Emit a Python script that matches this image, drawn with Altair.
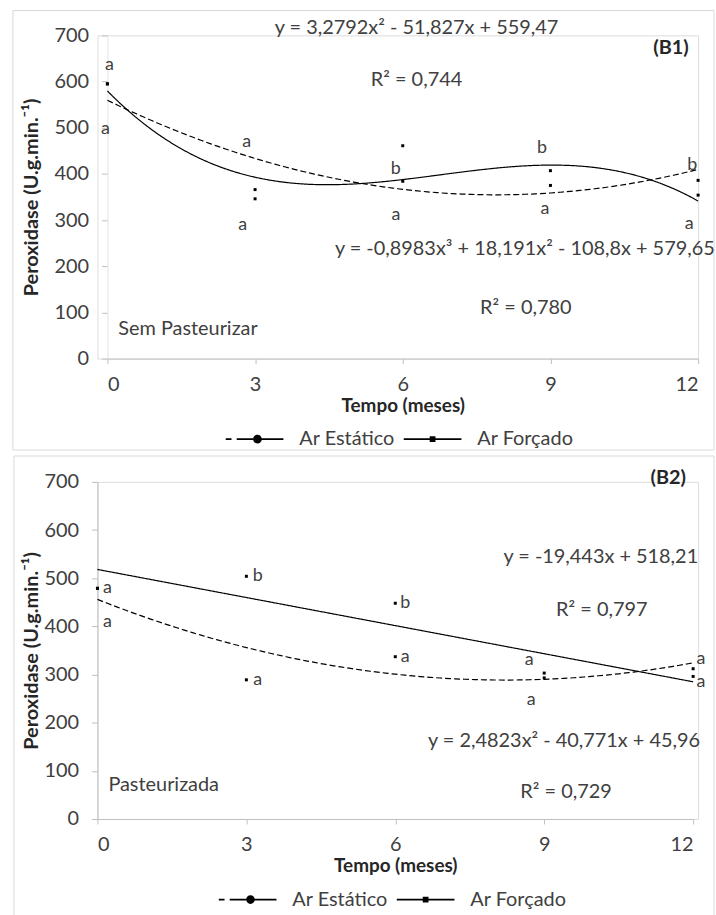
import altair as alt
import pandas as pd

MESES = [0, 3, 6, 9, 12]
SERIES = ["Ar Estático", "Ar Forçado"]

# Peroxidase means (U.g.min-1) - sem pasteurizar
b1_estatico = [595, 366, 384, 375, 386]
b1_forcado = [595, 346, 461, 407, 354]
# Peroxidase means (U.g.min-1) - pasteurizada
b2_estatico = [479, 289, 337, 293, 296]
b2_forcado = [479, 504, 448, 303, 312]

# trend-line coefficients c0 + c1*x + c2*x^2 + c3*x^3
b1_coef_estatico = [559.47, -51.827, 3.2792, 0.0]
b1_coef_forcado = [579.65, -108.8, 18.191, -0.8983]
b2_coef_estatico = [455.96, -40.771, 2.4823, 0.0]
b2_coef_forcado = [518.21, -19.443, 0.0, 0.0]

# significance letters (x in months, y in U.g.min-1)
b1_let_x = [0.04, -0.04, 2.83, 2.75, 5.86, 5.86, 8.83, 8.89, 11.88, 11.82]
b1_let_y = [636, 498, 468, 289, 410, 310, 457, 323, 420, 291]
b1_let_t = ["a", "a", "a", "a", "b", "a", "b", "a", "b", "a"]
b2_let_x = [0.2, 0.2, 3.23, 3.23, 6.2, 6.2, 8.7, 8.74, 12.16, 12.16]
b2_let_y = [479, 409, 504, 289, 448, 337, 330, 248, 333, 285]
b2_let_t = ["a", "a", "b", "a", "b", "a", "a", "a", "a", "a"]

# equations and R2
b1_eq_text = ["y = 3,2792x² - 51,827x + 559,47", "R² = 0,744",
              "y = -0,8983x³ + 18,191x² - 108,8x + 579,65", "R² = 0,780"]
b1_eq_x = [6.28, 6.28, 8.48, 8.5]
b1_eq_y = [715, 603, 237, 110]
b2_eq_text = ["y = -19,443x + 518,21", "R² = 0,797",
              "y = 2,4823x² - 40,771x + 45,96", "R² = 0,729"]
b2_eq_x = [10.14, 10.16, 9.4, 9.44]
b2_eq_y = [543, 434, 161, 56]

FONT = "Lato"
INK = "#404040"
AXIS_GRAY = "#bfbfbf"
FS = 20

# legend glyphs built from filled pieces:
# dashed line with a round marker / solid line with a square marker
GLYPH_ESTATICO = ("M-1,-0.03H-0.8V0.03H-1Z"
                  "M-0.62,-0.03H-0.05V0.03H-0.62Z"
                  "M0.2,-0.03H1V0.03H0.2Z"
                  "M-0.05,0A0.15,0.15 0 1,1 0.25,0A0.15,0.15 0 1,1 -0.05,0Z")
GLYPH_FORCADO = ("M-1,-0.03H1V0.03H-1Z"
                 "M-0.1,-0.1H0.1V0.1H-0.1Z")


def poly_expr(c):
    return (f"{c[0]} + ({c[1]})*datum.x + ({c[2]})*datum.x*datum.x"
            f" + ({c[3]})*datum.x*datum.x*datum.x")


def panel(est, frc, coef_e, coef_f, let_x, let_y, let_t, eq_t, eq_x, eq_y,
          tag, tag_xy, note, note_xy, x_range, height, yaxis_offset,
          ydomain_color, ytitle_pad, legend_xy, frame):
    xs = alt.Scale(domain=[0, 12], range=x_range, nice=False)
    ys = alt.Scale(domain=[0, 700], nice=False)
    xaxis = alt.Axis(values=MESES, grid=False, title="Tempo (meses)",
                     domainColor=AXIS_GRAY, tickColor=AXIS_GRAY, tickSize=5,
                     labelFont=FONT, labelFontSize=FS, labelColor=INK,
                     labelPadding=11, titleFont=FONT, titleFontSize=19,
                     titleFontWeight="bold", titleColor="#262626",
                     titlePadding=2)
    yaxis = alt.Axis(values=[0, 100, 200, 300, 400, 500, 600, 700],
                     grid=False, title="Peroxidase (U.g.min.⁻¹)",
                     domainColor=ydomain_color, tickColor=AXIS_GRAY,
                     tickSize=6, offset=yaxis_offset,
                     labelFont=FONT, labelFontSize=FS, labelColor=INK,
                     labelPadding=13, titleFont=FONT, titleFontSize=FS,
                     titleFontWeight="bold", titleColor="#262626",
                     titlePadding=ytitle_pad)
    X = alt.X("x:Q", scale=xs, axis=xaxis)
    Y = alt.Y("y:Q", scale=ys, axis=yaxis)

    pts = pd.DataFrame({
        "x": MESES * 2,
        "y": est + frc,
        "serie": [SERIES[0]] * 5 + [SERIES[1]] * 5,
    })
    letters = pd.DataFrame({"x": let_x, "y": let_y, "t": let_t})
    eqs = pd.DataFrame({"x": eq_x, "y": eq_y, "t": eq_t})

    def curve(coef, dash):
        return (alt.Chart(alt.sequence(0, 12.01, 0.1, as_="x"))
                .transform_calculate(y=poly_expr(coef))
                .mark_line(color="black", strokeWidth=1.2, strokeDash=dash)
                .encode(x=X, y=Y))

    frame_rect = alt.Chart(pd.DataFrame({"k": [0]})).mark_rect(
        fill=None, stroke="#d9d9d9", strokeWidth=1
    ).encode(x=alt.value(frame[0]), x2=alt.value(frame[1]),
             y=alt.value(frame[2]), y2=alt.value(frame[3]))

    line_e = curve(coef_e, [6, 3])
    line_f = curve(coef_f, [1, 0])

    dots = alt.Chart(pts).mark_square(size=9, color="black", opacity=1).encode(
        x=X, y=Y)

    legend_layer = alt.Chart(pts).mark_point(
        filled=True, color="black", size=4, opacity=0
    ).encode(
        x=X, y=Y,
        shape=alt.Shape(
            "serie:N",
            scale=alt.Scale(domain=SERIES, range=[GLYPH_ESTATICO, GLYPH_FORCADO]),
            legend=alt.Legend(
                orient="none", legendX=legend_xy[0], legendY=legend_xy[1],
                direction="horizontal", title=None, symbolSize=3364,
                symbolFillColor="black", symbolOpacity=1,
                labelFont=FONT, labelFontSize=FS, labelColor=INK,
                labelOffset=15, columnPadding=6,
            ),
        ),
    )

    letter_txt = alt.Chart(letters).mark_text(
        font=FONT, fontSize=18, color=INK, baseline="middle"
    ).encode(x=X, y=Y, text="t:N")

    eq_txt = alt.Chart(eqs).mark_text(
        font=FONT, fontSize=FS, color=INK, baseline="middle"
    ).encode(x=X, y=Y, text="t:N")

    tag_txt = alt.Chart(pd.DataFrame({"x": [tag_xy[0]], "y": [tag_xy[1]], "t": [tag]})).mark_text(
        font=FONT, fontSize=FS, fontWeight="bold", color="#262626", baseline="middle"
    ).encode(x=X, y=Y, text="t:N")

    note_txt = alt.Chart(pd.DataFrame({"x": [note_xy[0]], "y": [note_xy[1]], "t": [note]})).mark_text(
        font=FONT, fontSize=FS, color=INK, baseline="middle", align="left"
    ).encode(x=X, y=Y, text="t:N")

    return alt.layer(
        frame_rect, line_e, line_f, dots, legend_layer,
        letter_txt, eq_txt, tag_txt, note_txt
    ).properties(width=604, height=height)


p1 = panel(b1_estatico, b1_forcado, b1_coef_estatico, b1_coef_forcado,
           b1_let_x, b1_let_y, b1_let_t, b1_eq_text, b1_eq_x, b1_eq_y,
           "(B1)", (11.45, 672), "Sem Pasteurizar", (0.22, 65),
           [10, 604], 325, -10, "#e3e3e3", 12, (128, 376),
           (-85, 620, -25, 417))
p2 = panel(b2_estatico, b2_forcado, b2_coef_estatico, b2_coef_forcado,
           b2_let_x, b2_let_y, b2_let_t, b2_eq_text, b2_eq_x, b2_eq_y,
           "(B2)", (11.5, 707), "Pasteurizada", (0.22, 70),
           [0, 599], 339, 0, AXIS_GRAY, 2, (121, 390),
           (-84, 620, -26, 440))

chart = alt.vconcat(p1, p2, spacing=124, bounds="flush").resolve_scale(
    x="independent", y="independent", shape="independent"
).resolve_legend(shape="independent").properties(
    padding={"left": 12, "top": 7, "right": 0, "bottom": 0},
).configure_view(stroke=None).configure(background="white")

chart.save("out.html", embed_options={"renderer": "svg", "actions": False})
